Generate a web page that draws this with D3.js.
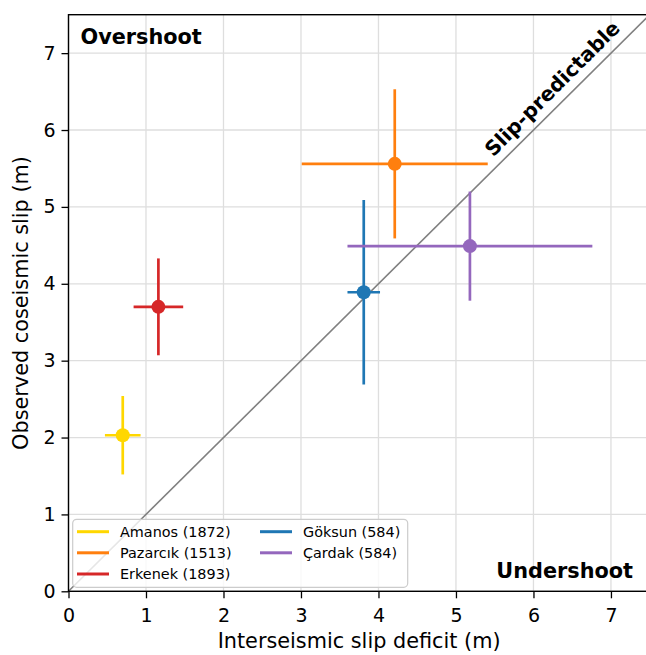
<!DOCTYPE html>
<html><head><meta charset="utf-8">
<script src="https://cdn.jsdelivr.net/npm/d3@7"></script>
<style>body{margin:0;background:#fff}svg{display:block}text{font-family:"DejaVu Sans",sans-serif}</style>
</head><body>
<svg id="c" width="646" height="655"></svg>
<script>
const names = ["Amanos (1872)","Pazarcık (1513)","Erkenek (1893)","Göksun (584)","Çardak (584)"];
const colors = ["#ffd700","#ff7f0e","#d62728","#1f77b4","#9467bd"];
const xVals = [0.70, 4.21, 1.16, 3.81, 5.18];
const yVals = [2.03, 5.56, 3.70, 3.89, 4.49];
const xErr = [0.23, 1.20, 0.32, 0.21, 1.58];
const yErr = [0.51, 0.97, 0.63, 1.20, 0.71];
const xTicks = [0,1,2,3,4,5,6,7];
const yTicks = [0,1,2,3,4,5,6,7];
const lim = [0, 7.5];

const svg = d3.select("#c");
const x = d3.scaleLinear().domain(lim).range([68.5, 649.7]);
const y = d3.scaleLinear().domain(lim).range([591.3, 14.7]);

// grid
const g = svg.append("g");
g.selectAll(".gx").data(xTicks).enter().append("line")
 .attr("x1",d=>x(d)).attr("x2",d=>x(d)).attr("y1",y(lim[0])).attr("y2",y(lim[1]))
 .attr("stroke","#dedede").attr("stroke-width",1.3);
g.selectAll(".gy").data(yTicks).enter().append("line")
 .attr("y1",d=>y(d)).attr("y2",d=>y(d)).attr("x1",x(lim[0])).attr("x2",x(lim[1]))
 .attr("stroke","#dedede").attr("stroke-width",1.3);

// diagonal
svg.append("line").attr("x1",x(0)).attr("y1",y(0)).attr("x2",x(7.5)).attr("y2",y(7.5))
 .attr("stroke","#808080").attr("stroke-width",1.6);

// error bars and points
const pts = svg.append("g");
names.forEach((n,i)=>{
  const c = colors[i];
  pts.append("line").attr("x1",x(xVals[i]-xErr[i])).attr("x2",x(xVals[i]+xErr[i]))
   .attr("y1",y(yVals[i])).attr("y2",y(yVals[i])).attr("stroke",c).attr("stroke-width",2.7);
  pts.append("line").attr("y1",y(yVals[i]-yErr[i])).attr("y2",y(yVals[i]+yErr[i]))
   .attr("x1",x(xVals[i])).attr("x2",x(xVals[i])).attr("stroke",c).attr("stroke-width",2.7);
  pts.append("circle").attr("cx",x(xVals[i])).attr("cy",y(yVals[i])).attr("r",7).attr("fill",c);
});

// axes
const xAxis = d3.axisBottom(x).tickValues(xTicks).tickSize(7).tickPadding(10).tickFormat(d3.format("d"));
const yAxis = d3.axisLeft(y).tickValues(yTicks).tickSize(7).tickPadding(6).tickFormat(d3.format("d"));
const gx = svg.append("g").attr("transform",`translate(0,${y(0)})`).call(xAxis);
const gy = svg.append("g").attr("transform",`translate(${x(0)},0)`).call(yAxis);
[gx,gy].forEach(a=>{
  a.select(".domain").remove();
  a.selectAll(".tick line").attr("stroke","#000").attr("stroke-width",1.3);
  a.selectAll(".tick text").attr("font-size",19).attr("fill","#000").attr("font-family","DejaVu Sans");
});
// spines
svg.append("rect").attr("x",x(0)).attr("y",y(7.5)).attr("width",x(7.5)-x(0)).attr("height",y(0)-y(7.5))
 .attr("fill","none").attr("stroke","#000").attr("stroke-width",1.4);

// labels
svg.append("text").attr("x",(x(0)+x(7.5))/2).attr("y",648).attr("text-anchor","middle")
 .attr("font-size",20.8).text("Interseismic slip deficit (m)");
svg.append("text").attr("transform",`translate(27.5,${(y(0)+y(7.5))/2}) rotate(-90)`).attr("text-anchor","middle")
 .attr("font-size",20.8).text("Observed coseismic slip (m)");

svg.append("text").attr("x",80.5).attr("y",44).attr("font-size",20.8).attr("font-weight","bold").text("Overshoot");
svg.append("text").attr("x",633).attr("y",577.5).attr("text-anchor","end").attr("font-size",20.8).attr("font-weight","bold").text("Undershoot");

const tc = 6.39;
svg.append("text").attr("transform",`translate(${x(tc)-6.5},${y(tc)-6.5}) rotate(-45)`)
 .attr("text-anchor","middle").attr("font-size",20.2).attr("font-weight","bold").text("Slip-predictable");

// legend
const lg = svg.append("g");
lg.append("rect").attr("x",72.7).attr("y",519.3).attr("width",335).attr("height",68).attr("rx",4)
 .attr("fill","#fff").attr("fill-opacity",0.8).attr("stroke","#cccccc").attr("stroke-width",1.2);
const lx = [77, 260], ly = [531.7, 552.8, 574];
names.forEach((n,i)=>{
  const col = i<3?0:1, row = i<3?i:i-3;
  lg.append("line").attr("x1",lx[col]).attr("x2",lx[col]+32).attr("y1",ly[row]).attr("y2",ly[row])
   .attr("stroke",colors[i]).attr("stroke-width",3);
  lg.append("text").attr("x",lx[col]+43).attr("y",ly[row]+5.2).attr("font-size",14.4).text(n);
});
</script>
</body></html>
